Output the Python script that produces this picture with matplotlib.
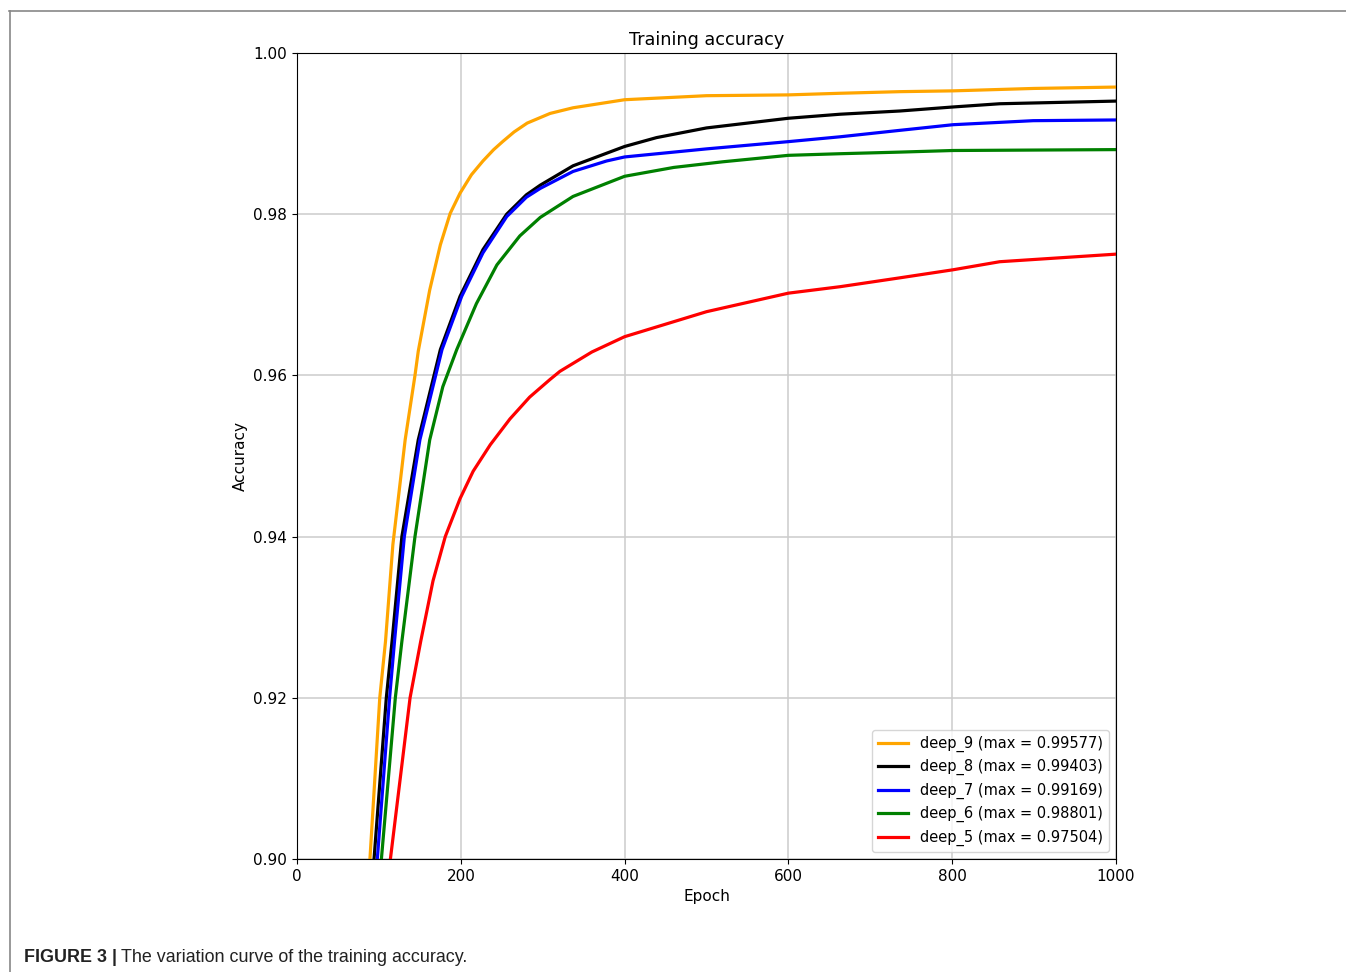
import matplotlib.pyplot as plt
from matplotlib.lines import Line2D

# values (epoch, accuracy); first point sits below the axis floor
deep9_epoch = [80, 89, 101, 108, 117, 132, 144, 148, 162, 175, 187, 199, 213, 227, 240,
               251, 265, 281, 309, 337, 400, 500, 600, 663, 736, 801, 900, 1000]
deep9_acc = [0.885, 0.900, 0.920, 0.927, 0.939, 0.952, 0.960, 0.963, 0.9706, 0.9762, 0.9801,
             0.9826, 0.9849, 0.9866, 0.9880, 0.9890, 0.9902, 0.9913, 0.9925, 0.9932,
             0.9942, 0.9947, 0.9948, 0.9950, 0.9952, 0.9953, 0.9956, 0.99577]

deep8_epoch = [80, 94, 109, 116, 128, 148, 168, 175, 199, 227, 256, 280, 297, 337, 400,
               439, 500, 600, 663, 736, 801, 858, 1000]
deep8_acc = [0.881, 0.900, 0.920, 0.927, 0.940, 0.952, 0.9603, 0.9632, 0.9698, 0.9756,
             0.9800, 0.9824, 0.9836, 0.9860, 0.9884, 0.9895, 0.9907, 0.9919, 0.9924,
             0.9928, 0.9933, 0.9937, 0.99403]

deep7_epoch = [80, 98, 113, 119, 131, 150, 177, 201, 227, 256, 280, 297, 337, 378, 400,
               500, 600, 663, 736, 801, 899, 1000]
deep7_acc = [0.8755, 0.900, 0.920, 0.927, 0.940, 0.952, 0.9632, 0.9698, 0.9752, 0.9797,
             0.9821, 0.9832, 0.9853, 0.9866, 0.9871, 0.9881, 0.9890, 0.9896, 0.9904,
             0.9911, 0.9916, 0.99169]

deep6_epoch = [80, 103, 120, 128, 144, 162, 178, 195, 219, 244, 272, 297, 337, 400, 460,
               520, 600, 663, 736, 801, 1000]
deep6_acc = [0.871, 0.900, 0.920, 0.927, 0.940, 0.952, 0.9586, 0.9632, 0.9689, 0.9737,
             0.9773, 0.9796, 0.9822, 0.9847, 0.9858, 0.9865, 0.9873, 0.9875, 0.9877,
             0.9879, 0.98801]

deep5_epoch = [90, 114, 138, 151, 166, 181, 199, 215, 236, 260, 284, 309, 321, 360, 400,
               500, 600, 663, 736, 801, 858, 1000]
deep5_acc = [0.8806, 0.900, 0.920, 0.927, 0.9345, 0.940, 0.9447, 0.9481, 0.9514, 0.9546,
             0.9573, 0.9595, 0.9605, 0.9629, 0.9648, 0.9679, 0.9702, 0.9710, 0.9721,
             0.9731, 0.9741, 0.97504]

series = [
    ("deep_9 (max = 0.99577)", deep9_epoch, deep9_acc, "orange"),
    ("deep_8 (max = 0.99403)", deep8_epoch, deep8_acc, "black"),
    ("deep_7 (max = 0.99169)", deep7_epoch, deep7_acc, "blue"),
    ("deep_6 (max = 0.98801)", deep6_epoch, deep6_acc, "green"),
    ("deep_5 (max = 0.97504)", deep5_epoch, deep5_acc, "red"),
]

fig = plt.figure(figsize=(13.46, 9.72), dpi=100)
ax = fig.add_axes([0.2207, 0.1163, 0.6084, 0.8292])

for label, ep, acc, color in series:
    ax.plot(ep, acc, color=color, lw=2.3, label=label)

ax.set_xlim(0, 1000)
ax.set_ylim(0.90, 1.00)
ax.set_xticks([0, 200, 400, 600, 800, 1000])
ax.set_yticks([0.90, 0.92, 0.94, 0.96, 0.98, 1.00])
ax.tick_params(labelsize=11)
ax.grid(True, color="#cccccc", lw=1.1)
ax.set_title("Training accuracy", fontsize=12.7, pad=6)
ax.set_xlabel("Epoch", fontsize=11)
ax.set_ylabel("Accuracy", fontsize=11)
ax.legend(loc="lower right", fontsize=10.5, handlelength=2.1)

# outer frame (top and left edges only)
fig.add_artist(Line2D([9 / 1346, 1], [1 - 11 / 972] * 2, color="#888888", lw=1.2))
fig.add_artist(Line2D([10 / 1346] * 2, [0, 1 - 11 / 972], color="#888888", lw=1.2))

# caption: bold lead-in followed by regular text
cap_y = 1 - 962 / 972
t1 = fig.text(24 / 1346, cap_y, "FIGURE 3 |", fontsize=12.9, fontweight="bold",
              family="Liberation Sans", color="#222222")
fig.canvas.draw()
bb = t1.get_window_extent()
fig.text((bb.x1 + 4) / 1346, cap_y, "The variation curve of the training accuracy.",
         fontsize=12.9, family="Liberation Sans", color="#222222")

fig.savefig("out.png", dpi=100)
